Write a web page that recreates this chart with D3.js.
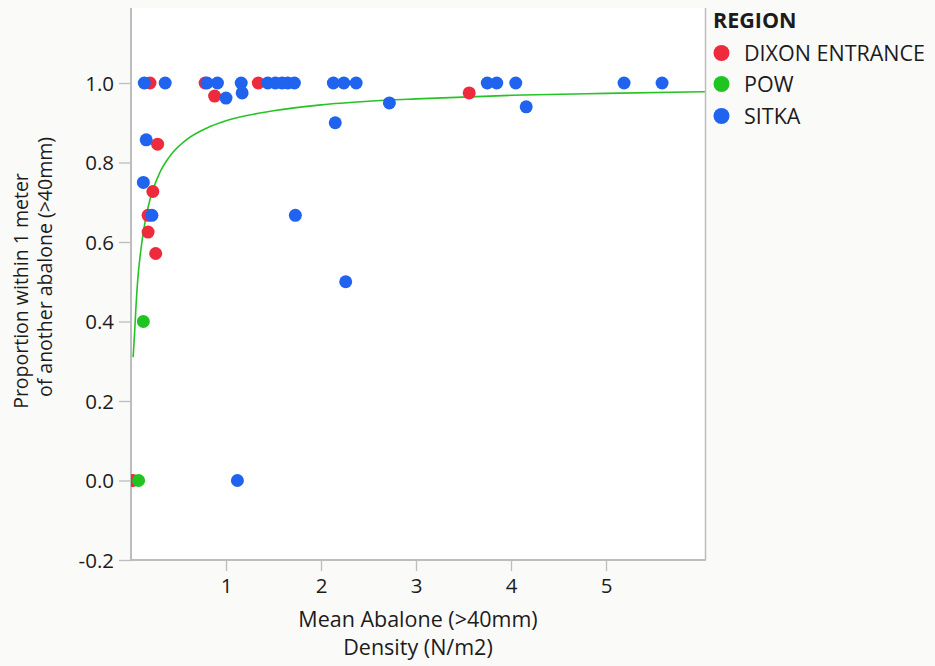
<!DOCTYPE html>
<html>
<head>
<meta charset="utf-8">
<script src="https://cdn.jsdelivr.net/npm/d3@7"></script>
<style>
  html, body { margin: 0; padding: 0; background: #fafaf9; }
  svg { display: block; }
  text { font-family: "Open Sans", "Noto Sans", sans-serif; fill: #1c1c1c; }
</style>
</head>
<body>
<svg id="chart" width="935" height="666"></svg>
<script>
// ---- data ----
const regions = ["DIXON ENTRANCE", "POW", "SITKA"];
const regionColors = ["#ee2b3d", "#1fc421", "#1f63ef"];

const dixonX = [0.02, 0.78, 0.20, 0.88, 1.34, 0.28, 0.23, 0.18, 0.18, 0.26, 3.56];
const dixonY = [0.0, 1.0, 1.0, 0.967, 1.0, 0.846, 0.727, 0.625, 0.667, 0.571, 0.975];

const powX = [0.08, 0.13];
const powY = [0.0, 0.40];

const sitkaX = [0.14, 0.36, 0.16, 0.13, 0.22, 0.80, 0.91, 1.00, 1.16, 1.17, 1.44, 1.52, 1.59, 1.65, 1.72,
                2.13, 2.24, 2.37, 2.15, 2.72, 1.73, 2.26, 1.12, 3.75, 3.85, 4.05, 4.16, 5.19, 5.59];
const sitkaY = [1.0, 1.0, 0.857, 0.75, 0.667, 1.0, 1.0, 0.962, 1.0, 0.975, 1.0, 1.0, 1.0, 1.0, 1.0,
                1.0, 1.0, 1.0, 0.90, 0.95, 0.667, 0.50, 0.0, 1.0, 1.0, 1.0, 0.94, 1.0, 1.0];

// fitted curve
const curveX = [0.022, 0.03, 0.04, 0.05, 0.07, 0.1, 0.15, 0.2, 0.3, 0.4, 0.6, 0.8, 1.0, 1.5, 2, 2.5, 3, 4, 5, 6.04];
const curveY = [0.31, 0.34, 0.381, 0.427, 0.502, 0.573, 0.654, 0.707, 0.773, 0.813, 0.860, 0.887, 0.905, 0.930, 0.945, 0.954, 0.960, 0.969, 0.974, 0.978];

const xTicks = [1, 2, 3, 4, 5];
const yTicks = [-0.2, 0.0, 0.2, 0.4, 0.6, 0.8, 1.0];
const xTitle = ["Mean Abalone (>40mm)", "Density (N/m2)"];
const yTitle = ["Proportion within 1 meter", "of another abalone (>40mm)"];
const legendTitle = "REGION";

// ---- layout ----
const svg = d3.select("#chart");
const L = 131, R = 705, T = 8, B = 560;
const x = d3.scaleLinear().domain([0, 6.042]).range([L, R]);
const y = d3.scaleLinear().domain([-0.2, 1.0]).range([B, 83]);

const axisColor = "#bdbdbd";

svg.append("rect").attr("x", 0).attr("y", 0).attr("width", 935).attr("height", 666).attr("fill", "#fafaf9");
svg.append("rect").attr("x", L).attr("y", T).attr("width", R - L).attr("height", B - T).attr("fill", "#ffffff");

// right border
svg.append("line").attr("x1", R + 0.5).attr("x2", R + 0.5).attr("y1", T).attr("y2", B)
  .attr("stroke", axisColor).attr("stroke-width", 1.5);

// y axis
const yAxis = d3.axisLeft(y).tickValues(yTicks).tickSize(12).tickPadding(5)
  .tickFormat(d => d3.format(".1f")(d).replace("−", "-"));
const gy = svg.append("g").attr("transform", `translate(${L},0)`).call(yAxis);
gy.select(".domain").remove();
gy.append("line").attr("x1", 0).attr("x2", 0).attr("y1", T).attr("y2", B)
  .attr("stroke", axisColor).attr("stroke-width", 2);
gy.selectAll(".tick line").attr("stroke", axisColor).attr("stroke-width", 1.3);
gy.selectAll(".tick text").style("font-size", "20.5px").attr("fill", "#1c1c1c").attr("dy", "0.36em");

// x axis
const xAxis = d3.axisBottom(x).tickValues(xTicks).tickSize(11).tickPadding(7).tickFormat(d3.format("d"));
const gx = svg.append("g").attr("transform", `translate(0,${B})`).call(xAxis);
gx.select(".domain").remove();
gx.append("line").attr("x1", L).attr("x2", R + 1).attr("y1", 0).attr("y2", 0)
  .attr("stroke", axisColor).attr("stroke-width", 2);
gx.selectAll(".tick line").attr("stroke", axisColor).attr("stroke-width", 1.3);
gx.selectAll(".tick text").style("font-size", "20.5px").attr("fill", "#1c1c1c");

// axis titles
svg.append("text").attr("x", (L + R) / 2).attr("y", 627).attr("text-anchor", "middle")
  .style("font-size", "21.5px").text(xTitle[0]);
svg.append("text").attr("x", (L + R) / 2).attr("y", 655).attr("text-anchor", "middle")
  .style("font-size", "21.5px").text(xTitle[1]);
svg.append("text").attr("transform", "translate(28,291) rotate(-90)").attr("text-anchor", "middle")
  .style("font-size", "19.5px").text(yTitle[0]);
svg.append("text").attr("transform", "translate(52,267) rotate(-90)").attr("text-anchor", "middle")
  .style("font-size", "19.5px").text(yTitle[1]);

// clip
svg.append("clipPath").attr("id", "plotclip").append("rect")
  .attr("x", L).attr("y", T).attr("width", R - L).attr("height", B - T);
const plot = svg.append("g").attr("clip-path", "url(#plotclip)");

// fitted curve
const curveData = curveX.map((v, i) => [v, curveY[i]]);
plot.append("path").datum(curveData)
  .attr("fill", "none").attr("stroke", "#25c325").attr("stroke-width", 1.6)
  .attr("d", d3.line().x(d => x(d[0])).y(d => y(d[1])).curve(d3.curveMonotoneX));

// points (red, green, blue draw order)
const series = [
  { xs: dixonX, ys: dixonY, c: regionColors[0] },
  { xs: powX, ys: powY, c: regionColors[1] },
  { xs: sitkaX, ys: sitkaY, c: regionColors[2] }
];
series.forEach(s => {
  plot.append("g").selectAll("circle").data(s.xs.map((v, i) => [v, s.ys[i]])).join("circle")
    .attr("cx", d => x(d[0])).attr("cy", d => y(d[1])).attr("r", 6.5).attr("fill", s.c);
});

// legend
const lg = svg.append("g");
lg.append("text").attr("x", 713).attr("y", 28).style("font-size", "21.5px").style("font-weight", "bold")
  .attr("fill", "#111").text(legendTitle);
const rowY = [53, 84, 116];
regions.forEach((r, i) => {
  lg.append("circle").attr("cx", 721.5).attr("cy", rowY[i]).attr("r", 8).attr("fill", regionColors[i]);
  lg.append("text").attr("x", 744).attr("y", rowY[i]).attr("dy", "0.35em")
    .style("font-size", "21.5px").text(r);
});
</script>
</body>
</html>
